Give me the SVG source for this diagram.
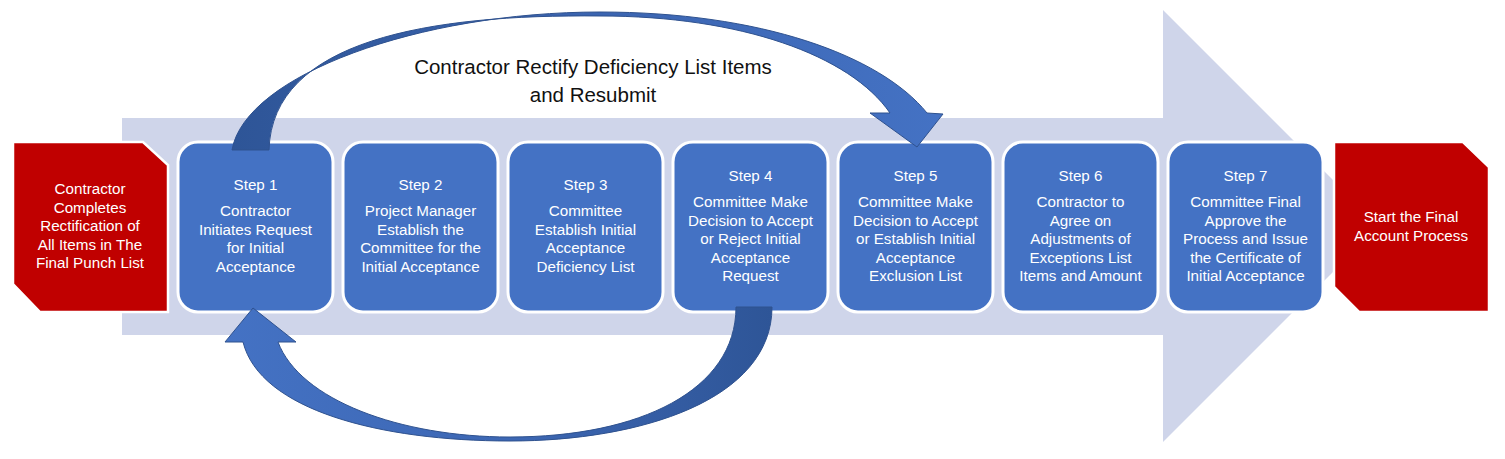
<svg xmlns="http://www.w3.org/2000/svg" width="1505" height="459" viewBox="0 0 1505 459">
  <defs>
    <style>
      .step { fill: #4472C4; stroke: #FFFFFF; stroke-width: 3; }
      .red { fill: #C00000; stroke: #FFFFFF; stroke-width: 2.5; stroke-linejoin: miter; }
      .t { font-family: "Liberation Sans", Arial, sans-serif; font-size: 15.2px; fill: #FFFFFF; text-anchor: middle; }
      .title { font-family: "Liberation Sans", Arial, sans-serif; font-size: 20.5px; fill: #111111; text-anchor: middle; }
      .curve { stroke: #2F528F; stroke-width: 1; stroke-linejoin: miter; }
    </style>
    <linearGradient id="gTop" x1="232" y1="0" x2="943" y2="0" gradientUnits="userSpaceOnUse">
      <stop offset="0" stop-color="#2E5597"/>
      <stop offset="0.45" stop-color="#3A63AE"/>
      <stop offset="1" stop-color="#4472C4"/>
    </linearGradient>
    <linearGradient id="gBot" x1="225" y1="0" x2="772" y2="0" gradientUnits="userSpaceOnUse">
      <stop offset="0" stop-color="#4472C4"/>
      <stop offset="0.55" stop-color="#3C66B2"/>
      <stop offset="1" stop-color="#2E5597"/>
    </linearGradient>
  </defs>

  <rect width="1505" height="459" fill="#FFFFFF"/>

  <g id="background-arrow">
    <polygon points="122,118 1163,118 1163,10 1379,226 1163,442 1163,335 122,335" fill="#CFD5EA"/>
  </g>

  <g id="start-node">
    <polygon class="red" points="13,142 143,142 168,165 168,312 40,312 13,284"/>
    <text class="t"><tspan x="90" y="194">Contractor</tspan><tspan x="90" y="212.5">Completes</tspan><tspan x="90" y="231">Rectification of</tspan><tspan x="90" y="249.5">All Items in The</tspan><tspan x="90" y="268">Final Punch List</tspan></text>
  </g>

  <g id="step1">
    <rect class="step" x="178" y="142" width="155" height="170" rx="20"/>
    <text class="t"><tspan x="255.5" y="190">Step 1</tspan><tspan x="255.5" y="216">Contractor</tspan><tspan x="255.5" y="234.5">Initiates Request</tspan><tspan x="255.5" y="253">for Initial</tspan><tspan x="255.5" y="271.5">Acceptance</tspan></text>
  </g>

  <g id="step2">
    <rect class="step" x="343" y="142" width="155" height="170" rx="20"/>
    <text class="t"><tspan x="420.5" y="190">Step 2</tspan><tspan x="420.5" y="216">Project Manager</tspan><tspan x="420.5" y="234.5">Establish the</tspan><tspan x="420.5" y="253">Committee for the</tspan><tspan x="420.5" y="271.5">Initial Acceptance</tspan></text>
  </g>

  <g id="step3">
    <rect class="step" x="508" y="142" width="155" height="170" rx="20"/>
    <text class="t"><tspan x="585.5" y="190">Step 3</tspan><tspan x="585.5" y="216">Committee</tspan><tspan x="585.5" y="234.5">Establish Initial</tspan><tspan x="585.5" y="253">Acceptance</tspan><tspan x="585.5" y="271.5">Deficiency List</tspan></text>
  </g>

  <g id="step4">
    <rect class="step" x="673" y="142" width="155" height="170" rx="20"/>
    <text class="t"><tspan x="750.5" y="181">Step 4</tspan><tspan x="750.5" y="207">Committee Make</tspan><tspan x="750.5" y="225.5">Decision to Accept</tspan><tspan x="750.5" y="244">or Reject Initial</tspan><tspan x="750.5" y="262.5">Acceptance</tspan><tspan x="750.5" y="281">Request</tspan></text>
  </g>

  <g id="step5">
    <rect class="step" x="838" y="142" width="155" height="170" rx="20"/>
    <text class="t"><tspan x="915.5" y="181">Step 5</tspan><tspan x="915.5" y="207">Committee Make</tspan><tspan x="915.5" y="225.5">Decision to Accept</tspan><tspan x="915.5" y="244">or Establish Initial</tspan><tspan x="915.5" y="262.5">Acceptance</tspan><tspan x="915.5" y="281">Exclusion List</tspan></text>
  </g>

  <g id="step6">
    <rect class="step" x="1003" y="142" width="155" height="170" rx="20"/>
    <text class="t"><tspan x="1080.5" y="181">Step 6</tspan><tspan x="1080.5" y="207">Contractor to</tspan><tspan x="1080.5" y="225.5">Agree on</tspan><tspan x="1080.5" y="244">Adjustments of</tspan><tspan x="1080.5" y="262.5">Exceptions List</tspan><tspan x="1080.5" y="281">Items and Amount</tspan></text>
  </g>

  <g id="step7">
    <rect class="step" x="1168" y="142" width="155" height="170" rx="20"/>
    <text class="t"><tspan x="1245.5" y="181">Step 7</tspan><tspan x="1245.5" y="207">Committee Final</tspan><tspan x="1245.5" y="225.5">Approve the</tspan><tspan x="1245.5" y="244">Process and Issue</tspan><tspan x="1245.5" y="262.5">the Certificate of</tspan><tspan x="1245.5" y="281">Initial Acceptance</tspan></text>
  </g>

  <g id="end-node">
    <polygon class="red" points="1334,142 1463,142 1489,167 1489,312 1359,312 1334,287"/>
    <text class="t"><tspan x="1411" y="222">Start the Final</tspan><tspan x="1411" y="241">Account Process</tspan></text>
  </g>

  <g id="connectors">
    <path class="curve" fill="url(#gTop)" d="M232,150 C245,75 420,12 600,12 C760,12 880,55 927,113 L943,114 L917,147 L870,113 L890,113 C850,55 740,16 600,16 C430,14 272,40 269,150 Z"/>
    <path class="curve" fill="url(#gBot)" d="M772,307 C772,400 640,441 510,441 C380,441 260,410 243,342 L225,342 L253,308 L296,342 L278,342 C300,400 400,437 510,437 C640,437 736,390 736,307 Z"/>
  </g>

  <g id="loop-label">
    <text class="title"><tspan x="593" y="74">Contractor Rectify Deficiency List Items</tspan><tspan x="593" y="102">and Resubmit</tspan></text>
  </g>
</svg>
